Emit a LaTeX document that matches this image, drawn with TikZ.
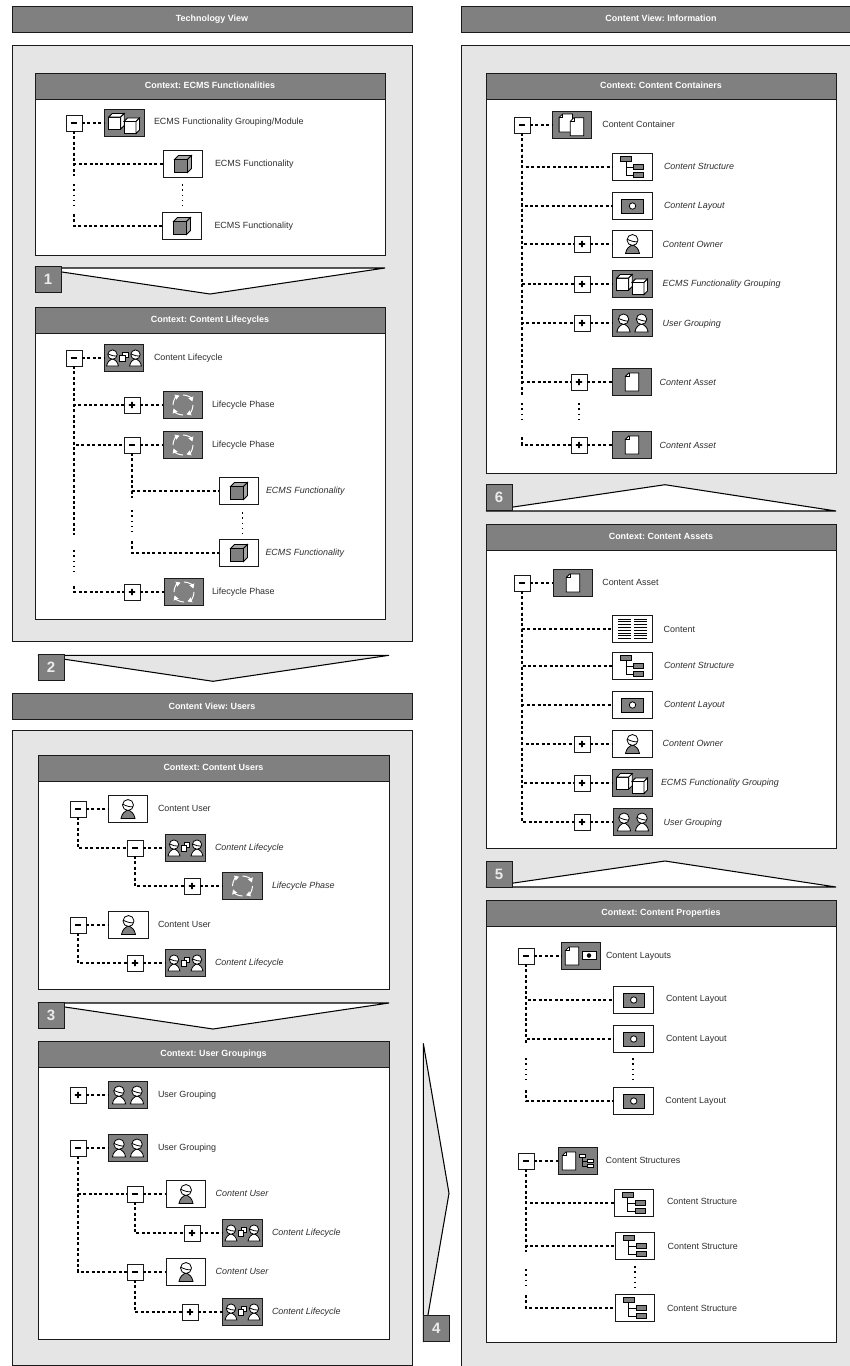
\documentclass[tikz,border=0pt]{standalone}
\usepackage{fontspec}
\setmainfont{Liberation Sans}
\usetikzlibrary{arrows.meta}
\definecolor{dk}{HTML}{808080}
\definecolor{pg}{HTML}{E5E5E5}
\definecolor{ln}{HTML}{1A1A1A}
\definecolor{tx}{HTML}{2E2E2E}
\tikzset{
  x=1pt,y=-1pt,
  basebox/.style={rectangle,inner sep=0pt,outer sep=0pt,draw=ln,line width=1pt},
  wbox/.style={basebox,fill=white,minimum width=39.5pt,minimum height=26.5pt},
  dbox/.style={basebox,fill=dk,minimum width=39.5pt,minimum height=26.5pt},
  togbox/.style={basebox,fill=white,minimum width=16pt,minimum height=16pt,line width=.8pt},
  lbl/.style={anchor=west,inner sep=0pt,outer sep=0pt,yshift=-.5pt,text=tx,text height=6.5pt,text depth=1.8pt,font=\fontsize{8.95}{10}\selectfont},
  ilbl/.style={lbl,font=\fontsize{8.95}{10}\selectfont\itshape},
  hdr/.style={basebox,fill=dk,anchor=north west,text=white,text height=6.5pt,text depth=1.2pt,font=\fontsize{8.95}{10}\selectfont\bfseries},
  panel/.style={basebox,fill=pg,anchor=north west},
  ctx/.style={basebox,fill=white,anchor=north west},
  numbox/.style={basebox,fill=dk,anchor=north west,minimum width=26pt,minimum height=26pt,text=white!92!black,font=\fontsize{15}{15}\selectfont\bfseries},
  chev/.style={draw=black,line width=1.05pt,line join=miter},
  conn/.style={draw=black,line width=1.7pt,dash pattern=on 3pt off 2.4pt},
  dotline/.style={draw=black,line width=1.6pt,dash pattern=on 1.5pt off 3.8pt},
  iconcube/.pic={
    \filldraw[draw=black,fill=dk,line width=.8pt] (-8.5,-4.5) rectangle (4.5,8.5);
    \filldraw[draw=black,fill=dk!70!white,line width=.8pt] (-8.5,-4.5) -- (-4.5,-8.5) -- (8.5,-8.5) -- (4.5,-4.5) -- cycle;
    \filldraw[draw=black,fill=dk!70!white,line width=.8pt] (4.5,-4.5) -- (8.5,-8.5) -- (8.5,4.5) -- (4.5,8.5) -- cycle;
  },
  wcube/.pic={
    \filldraw[draw=black,fill=white,line width=.8pt] (-6,-6) rectangle (6,6);
    \filldraw[draw=black,fill=white,line width=.8pt] (-6,-6) -- (-2.5,-9.5) -- (9.5,-9.5) -- (6,-6) -- cycle;
    \filldraw[draw=black,fill=white,line width=.8pt] (6,-6) -- (9.5,-9.5) -- (9.5,2.5) -- (6,6) -- cycle;
  },
  icongroup/.pic={
    \pic at (-9.7,0) {wcube};
    \pic at (5.5,4.5) {wcube};
  },
  iconperson/.pic={
    \filldraw[draw=black,fill=#1,line width=.8pt] (-7,9.5) .. controls (-6,4) and (-3,2.5) .. (-1.5,1.5) -- (1.5,1.5) .. controls (3,2.5) and (6,4) .. (7,9.5) -- cycle;
    \filldraw[draw=black,fill=white,line width=.8pt] (0,-4) circle[radius=5.5];
    \draw[black,line width=.8pt] (-5.4,-4.8) .. controls (-2,-3.2) and (2,-1.8) .. (5.2,-2.2);
  },
  iconusers/.pic={
    \pic[scale=.95] at (-9,0) {iconperson=white};
    \pic[scale=.95] at (9,0) {iconperson=white};
  },
  iconlife/.pic={
    \pic[scale=.85] at (-11.5,0) {iconperson=white};
    \pic[scale=.85] at (11.5,0) {iconperson=white};
    \filldraw[draw=black,fill=white,line width=.7pt] (-1.5,-6) rectangle (4,-0.5);
    \filldraw[draw=black,fill=white,line width=.7pt] (-4.5,-2.5) rectangle (1,3.5);
  },
  iconcycle/.pic={
    \draw[white,line width=1pt,-{Triangle[length=4.5pt,width=5pt]}] (10,0) arc[start angle=0,end angle=70,radius=10];
    \draw[white,line width=1pt,-{Triangle[length=4.5pt,width=5pt]}] (0,10) arc[start angle=90,end angle=160,radius=10];
    \draw[white,line width=1pt,-{Triangle[length=4.5pt,width=5pt]}] (-10,0) arc[start angle=180,end angle=250,radius=10];
    \draw[white,line width=1pt,-{Triangle[length=4.5pt,width=5pt]}] (0,-10) arc[start angle=270,end angle=340,radius=10];
  },
  wdoc/.pic={
    \filldraw[draw=black,fill=white,line width=.8pt] (-6.7,-5.5) -- (-3.2,-9) -- (6.7,-9) -- (6.7,9) -- (-6.7,9) -- cycle;
    \draw[black,line width=.6pt] (-6.7,-5.5) -- (-3.2,-5.5) -- (-3.2,-9);
  },
  icondocs/.pic={
    \pic at (-6.2,-2) {wdoc};
    \pic at (5,1.8) {wdoc};
  },
  iconlayout/.pic={
    \filldraw[draw=black,fill=dk,line width=.9pt] (-10.7,-7) rectangle (10.7,7);
    \filldraw[draw=black,fill=white,line width=.8pt] (0,0) circle[radius=3.2];
  },
  iconstruct/.pic={
    \draw[black,line width=.8pt] (-6.5,-6) -- (-6.5,8) -- (1.3,8) (-6.5,0) -- (1.3,0);
    \filldraw[draw=black,fill=#1,line width=.8pt] (-11.7,-10.3) rectangle (-1,-5.7);
    \filldraw[draw=black,fill=#1,line width=.8pt] (1.3,-2.5) rectangle (11,2.5);
    \filldraw[draw=black,fill=#1,line width=.8pt] (1.3,5.7) rectangle (11,10.7);
  },
  iconcontent/.pic={
    \foreach \yy in {-10,-7.2,-4.4,-1.6,1.2,4,6.8,9.6}{
      \draw[black,line width=.9pt] (-14.3,\yy) -- (-2,\yy) (1.3,\yy) -- (14.3,\yy);
    }
  },
  icondoclayout/.pic={
    \pic at (-9,0) {wdoc};
    \filldraw[draw=black,fill=white,line width=.8pt] (1,-4.7) rectangle (15,3.7);
    \filldraw[black] (8,-.5) circle[radius=2];
  },
  icondocstruct/.pic={
    \pic at (-9,0) {wdoc};
    \pic[scale=.62] at (8.5,0) {iconstruct=white};
  },
  iconminus/.pic={\fill[black] (-3,-1) rectangle (3,1);},
  iconplus/.pic={\fill[black] (-3.2,-.95) rectangle (3.2,.95) (-.95,-3.2) rectangle (.95,3.2);},
}
\newcommand\ibox[5]{\node[#4] (#1) at (#2,#3) {}; \pic at (#1) {#5};}
\newcommand\tog[4]{\node[togbox] (#1) at (#2,#3) {}; \pic at (#1) {icon#4};}
\newcommand\txt[5]{\node[#4] (#1) at (#2,#3) {#5};}
\newcommand\chead[5]{%
  \node[ctx,minimum width=#3pt,minimum height=#4pt] (#1) at (#2) {};
  \node[hdr,minimum width=#3pt,minimum height=26pt] (#1h) at (#2) {#5};}
\begin{document}
\frenchspacing
\begin{tikzpicture}
\useasboundingbox (0,0) rectangle (850,1366);
\clip (0,0) rectangle (850,1366);
\fill[white] (0,0) rectangle (850,1366);
% headers and panels
\node[hdr,minimum width=400pt,minimum height=26pt] (htech) at (12,6) {Technology View};
\node[panel,minimum width=400pt,minimum height=596.5pt] (ptech) at (12,45) {};
\node[hdr,minimum width=400pt,minimum height=26pt] (huser) at (12,693.5) {Content View: Users};
\node[panel,minimum width=400pt,minimum height=635pt] (puser) at (12,730) {};
\node[hdr,minimum width=400pt,minimum height=26pt] (hinfo) at (461,6) {Content View: Information};
\node[panel,minimum width=400pt,minimum height=1330pt] (pinfo) at (461,45) {};
% contexts
\chead{c1}{35,73}{350}{182}{Context: ECMS Functionalities}
\chead{c2}{35,307}{350}{312}{Context: Content Lifecycles}
\chead{c3}{38,755}{351}{234}{Context: Content Users}
\chead{c4}{38,1041}{351}{298.5}{Context: User Groupings}
\chead{c5}{486,73}{350}{400}{Context: Content Containers}
\chead{c6}{486,524.3}{350}{324}{Context: Content Assets}
\chead{c7}{486,900}{350}{442}{Context: Content Properties}
% chevrons
\draw[chev,fill=white] (35,268) -- (385,268) -- (210,294) -- cycle;
\node[numbox] (n1) at (35,266.5) {1};
\draw[chev,fill=pg] (38,655.3) -- (389,655.3) -- (213,681.3) -- cycle;
\node[numbox] (n2) at (38,654) {2};
\draw[chev,fill=white] (38,1003) -- (389,1003) -- (213,1029) -- cycle;
\node[numbox] (n3) at (38,1002) {3};
\draw[chev,fill=pg] (423.3,1043.3) -- (449,1193.3) -- (423.3,1342) -- cycle;
\node[numbox] (n4) at (423.3,1315) {4};
\draw[chev,fill=white] (486,511) -- (665,484.7) -- (836,511) -- cycle;
\node[numbox] (n6) at (486,484.7) {6};
\draw[chev,fill=white] (486,887) -- (665,861) -- (836,887) -- cycle;
\node[numbox] (n5) at (486,861) {5};

% --- c1
\tog{m1}{74}{123}{minus}
\ibox{a1}{124.5}{123}{dbox}{icongroup}
\txt{a1t}{154}{122}{lbl}{ECMS Functionality Grouping/Module}
\ibox{a2}{183}{164}{wbox}{iconcube}
\txt{a2t}{215}{164}{lbl}{ECMS Functionality}
\ibox{a3}{182}{226}{wbox}{iconcube}
\txt{a3t}{214.5}{226}{lbl}{ECMS Functionality}
\coordinate (a4) at (74,176); \coordinate (a5) at (74,184); \coordinate (a6) at (74,206); \coordinate (a7) at (74,214);
\coordinate (a8) at (182.5,184); \coordinate (a9) at (182.5,206);
\draw[conn] (m1) -- (a1);
\draw[conn] (m1.south) |- (a2.west);
\draw[conn] (m1.south) -- (a4);
\draw[dotline] (a5) -- (a6);
\draw[conn] (a7) |- (a3.west);
\draw[dotline] (a8) -- (a9);

% --- c2
\tog{m2}{74}{358}{minus}
\ibox{b1}{124}{358}{dbox}{iconlife}
\txt{b1t}{154}{358}{lbl}{Content Lifecycle}
\tog{p21}{132}{405}{plus}
\ibox{b2}{183}{405}{dbox}{iconcycle}
\txt{b2t}{212}{405}{lbl}{Lifecycle Phase}
\tog{m22}{132}{445}{minus}
\ibox{b3}{183}{445}{dbox}{iconcycle}
\txt{b3t}{212}{444.5}{lbl}{Lifecycle Phase}
\ibox{b4}{239}{491}{wbox}{iconcube}
\txt{b4t}{266}{491}{ilbl}{ECMS Functionality}
\ibox{b5}{239}{553}{wbox}{iconcube}
\txt{b5t}{265.5}{553}{ilbl}{ECMS Functionality}
\tog{p23}{132}{592}{plus}
\ibox{b6}{184}{592}{dbox}{iconcycle}
\txt{b6t}{212}{592}{lbl}{Lifecycle Phase}
\coordinate (b7) at (74,535); \coordinate (b8) at (74,550); \coordinate (b9) at (74,572); \coordinate (b10) at (74,586);
\coordinate (b11) at (132,498); \coordinate (b12) at (132,510); \coordinate (b13) at (132,532); \coordinate (b14) at (132,541);
\coordinate (b15) at (242.5,512); \coordinate (b16) at (242.5,534);
\draw[conn] (m2) -- (b1);
\draw[conn] (m2.south) |- (p21.west);
\draw[conn] (p21) -- (b2);
\draw[conn] (m2.south) |- (m22.west);
\draw[conn] (m22) -- (b3);
\draw[conn] (m2.south) -- (b7);
\draw[dotline] (b8) -- (b9);
\draw[conn] (b10) |- (p23.west);
\draw[conn] (p23) -- (b6);
\draw[conn] (m22.south) |- (b4.west);
\draw[conn] (m22.south) -- (b11);
\draw[dotline] (b12) -- (b13);
\draw[conn] (b14) |- (b5.west);
\draw[dotline] (b15) -- (b16);

% --- c3
\tog{m3}{78}{809}{minus}
\ibox{d1}{128}{809}{wbox}{iconperson=dk}
\txt{d1t}{158}{809}{lbl}{Content User}
\tog{m31}{135}{848}{minus}
\ibox{d2}{185.5}{848}{dbox}{iconlife}
\txt{d2t}{215}{847.5}{ilbl}{Content Lifecycle}
\tog{p32}{192}{886}{plus}
\ibox{d3}{242.5}{886}{dbox}{iconcycle}
\txt{d3t}{272}{885.5}{ilbl}{Lifecycle Phase}
\tog{m33}{78}{925}{minus}
\ibox{d4}{128.5}{925}{wbox}{iconperson=dk}
\txt{d4t}{158}{924.7}{lbl}{Content User}
\tog{p34}{135}{963}{plus}
\ibox{d5}{185.5}{963}{dbox}{iconlife}
\txt{d5t}{215}{963}{ilbl}{Content Lifecycle}
\draw[conn] (m3) -- (d1);
\draw[conn] (m3.south) |- (m31.west);
\draw[conn] (m31) -- (d2);
\draw[conn] (m31.south) |- (p32.west);
\draw[conn] (p32) -- (d3);
\draw[conn] (m33) -- (d4);
\draw[conn] (m33.south) |- (p34.west);
\draw[conn] (p34) -- (d5);

% --- c4
\tog{p4}{78}{1095}{plus}
\ibox{e1}{128}{1095}{dbox}{iconusers}
\txt{e1t}{158}{1094.5}{lbl}{User Grouping}
\tog{m4}{78}{1148}{minus}
\ibox{e2}{128}{1148}{dbox}{iconusers}
\txt{e2t}{158}{1147.5}{lbl}{User Grouping}
\tog{m41}{135}{1194}{minus}
\ibox{e3}{186}{1194}{wbox}{iconperson=dk}
\txt{e3t}{215.7}{1194}{ilbl}{Content User}
\tog{p42}{192}{1233}{plus}
\ibox{e4}{242.5}{1233}{dbox}{iconlife}
\txt{e4t}{272}{1233}{ilbl}{Content Lifecycle}
\tog{m43}{135}{1272}{minus}
\ibox{e5}{186}{1272}{wbox}{iconperson=dk}
\txt{e5t}{215.7}{1272}{ilbl}{Content User}
\tog{p44}{190}{1312}{plus}
\ibox{e6}{242.5}{1312}{dbox}{iconlife}
\txt{e6t}{272}{1311.7}{ilbl}{Content Lifecycle}
\draw[conn] (p4) -- (e1);
\draw[conn] (m4) -- (e2);
\draw[conn] (m4.south) |- (m41.west);
\draw[conn] (m41) -- (e3);
\draw[conn] (m41.south) |- (p42.west);
\draw[conn] (p42) -- (e4);
\draw[conn] (m4.south) |- (m43.west);
\draw[conn] (m43) -- (e5);
\draw[conn] (m43.south) |- (p44.west);
\draw[conn] (p44) -- (e6);

% --- c5
\tog{m5}{522}{125}{minus}
\ibox{f1}{572}{125}{dbox}{icondocs}
\txt{f1t}{602.3}{125}{lbl}{Content Container}
\ibox{f2}{632.5}{167}{wbox}{iconstruct=dk}
\txt{f2t}{664}{166.7}{ilbl}{Content Structure}
\ibox{f3}{632.5}{206}{wbox}{iconlayout}
\txt{f3t}{664}{205.7}{ilbl}{Content Layout}
\tog{p51}{582}{244}{plus}
\ibox{f4}{632.5}{244}{wbox}{iconperson=dk}
\txt{f4t}{662.7}{244.3}{ilbl}{Content Owner}
\tog{p52}{582}{284}{plus}
\ibox{f5}{632.5}{284}{dbox}{icongroup}
\txt{f5t}{662.7}{284}{ilbl}{ECMS Functionality Grouping}
\tog{p53}{582}{323}{plus}
\ibox{f6}{632.5}{323}{dbox}{iconusers}
\txt{f6t}{662.7}{323.3}{ilbl}{User Grouping}
\tog{p54}{579}{382}{plus}
\ibox{f7}{632}{382}{dbox}{wdoc}
\txt{f7t}{659.7}{382.3}{ilbl}{Content Asset}
\tog{p55}{579}{445}{plus}
\ibox{f8}{632}{445}{dbox}{wdoc}
\txt{f8t}{659.7}{445.3}{ilbl}{Content Asset}
\coordinate (f9) at (522,396); \coordinate (f10) at (522,403); \coordinate (f11) at (522,424); \coordinate (f12) at (522,437);
\coordinate (f13) at (579,403); \coordinate (f14) at (579,424);
\draw[conn] (m5) -- (f1);
\draw[conn] (m5.south) |- (f2.west);
\draw[conn] (m5.south) |- (f3.west);
\draw[conn] (m5.south) |- (p51.west);
\draw[conn] (p51) -- (f4);
\draw[conn] (m5.south) |- (p52.west);
\draw[conn] (p52) -- (f5);
\draw[conn] (m5.south) |- (p53.west);
\draw[conn] (p53) -- (f6);
\draw[conn] (m5.south) |- (p54.west);
\draw[conn] (p54) -- (f7);
\draw[conn] (m5.south) -- (f9);
\draw[dotline] (f10) -- (f11);
\draw[conn] (f12) |- (p55.west);
\draw[conn] (p55) -- (f8);
\draw[dotline] (f13) -- (f14);

% --- c6
\tog{m6}{522}{583}{minus}
\ibox{g1}{573}{583}{dbox}{wdoc}
\txt{g1t}{602.3}{582.5}{lbl}{Content Asset}
\ibox{g2}{632.5}{629}{wbox}{iconcontent}
\txt{g2t}{663.7}{629.3}{lbl}{Content}
\ibox{g3}{632.5}{666}{wbox}{iconstruct=dk}
\txt{g3t}{664}{665.7}{ilbl}{Content Structure}
\ibox{g4}{632.5}{705}{wbox}{iconlayout}
\txt{g4t}{664}{704.7}{ilbl}{Content Layout}
\tog{p61}{582}{744}{plus}
\ibox{g5}{632.5}{744}{wbox}{iconperson=dk}
\txt{g5t}{662.7}{743.7}{ilbl}{Content Owner}
\tog{p62}{582}{783}{plus}
\ibox{g6}{632.5}{783}{dbox}{icongroup}
\txt{g6t}{661}{782.7}{ilbl}{ECMS Functionality Grouping}
\tog{p63}{582}{822}{plus}
\ibox{g7}{633}{822}{dbox}{iconusers}
\txt{g7t}{663.7}{822.3}{ilbl}{User Grouping}
\draw[conn] (m6) -- (g1);
\draw[conn] (m6.south) |- (g2.west);
\draw[conn] (m6.south) |- (g3.west);
\draw[conn] (m6.south) |- (g4.west);
\draw[conn] (m6.south) |- (p61.west);
\draw[conn] (p61) -- (g5);
\draw[conn] (m6.south) |- (p62.west);
\draw[conn] (p62) -- (g6);
\draw[conn] (m6.south) |- (p63.west);
\draw[conn] (p63) -- (g7);

% --- c7
\tog{m7}{526}{956}{minus}
\ibox{h1}{581}{956}{dbox}{icondoclayout}
\txt{h1t}{606}{955.5}{lbl}{Content Layouts}
\ibox{h2}{633.7}{1000}{wbox}{iconlayout}
\txt{h2t}{666}{998.5}{lbl}{Content Layout}
\ibox{h3}{633.7}{1039}{wbox}{iconlayout}
\txt{h3t}{666}{1038.5}{lbl}{Content Layout}
\ibox{h4}{633.7}{1101}{wbox}{iconlayout}
\txt{h4t}{665.3}{1100.3}{lbl}{Content Layout}
\coordinate (h5) at (526,1044); \coordinate (h6) at (526,1058); \coordinate (h7) at (526,1080); \coordinate (h8) at (526,1090);
\coordinate (h9) at (633,1058); \coordinate (h10) at (633,1080);
\draw[conn] (m7) -- (h1);
\draw[conn] (m7.south) |- (h2.west);
\draw[conn] (m7.south) |- (h3.west);
\draw[conn] (m7.south) -- (h5);
\draw[dotline] (h6) -- (h7);
\draw[conn] (h8) |- (h4.west);
\draw[dotline] (h9) -- (h10);

\tog{m8}{526}{1161}{minus}
\ibox{i1}{578}{1161}{dbox}{icondocstruct}
\txt{i1t}{605.7}{1160.5}{lbl}{Content Structures}
\ibox{i2}{634}{1203}{wbox}{iconstruct=dk}
\txt{i2t}{667}{1201.5}{lbl}{Content Structure}
\ibox{i3}{635}{1246}{wbox}{iconstruct=dk}
\txt{i3t}{667.7}{1246.3}{lbl}{Content Structure}
\ibox{i4}{635}{1308}{wbox}{iconstruct=dk}
\txt{i4t}{667}{1308.3}{lbl}{Content Structure}
\coordinate (i5) at (526,1252); \coordinate (i6) at (526,1269); \coordinate (i7) at (526,1288); \coordinate (i8) at (526,1295);
\coordinate (i9) at (635,1266); \coordinate (i10) at (635,1288);
\draw[conn] (m8) -- (i1);
\draw[conn] (m8.south) |- (i2.west);
\draw[conn] (m8.south) |- (i3.west);
\draw[conn] (m8.south) -- (i5);
\draw[dotline] (i6) -- (i7);
\draw[conn] (i8) |- (i4.west);
\draw[dotline] (i9) -- (i10);
\end{tikzpicture}
\end{document}
